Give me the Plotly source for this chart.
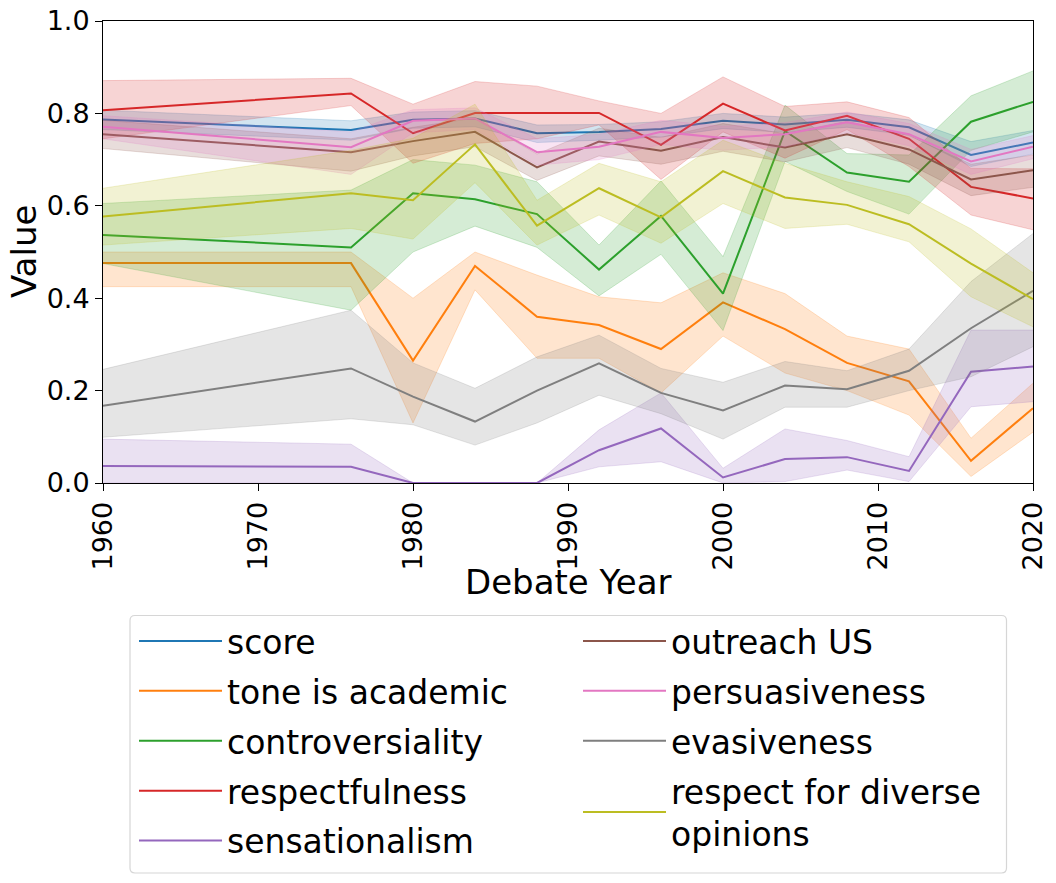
import plotly.graph_objects as go

years = [1960, 1976, 1980, 1984, 1988, 1992, 1996, 2000, 2004, 2008, 2012, 2016, 2020]

score = [0.787, 0.764, 0.786, 0.789, 0.757, 0.760, 0.766, 0.784, 0.776, 0.786, 0.770, 0.710, 0.737]
score_hi = [0.807, 0.784, 0.803, 0.806, 0.775, 0.776, 0.782, 0.800, 0.792, 0.801, 0.786, 0.739, 0.763]
score_lo = [0.765, 0.742, 0.768, 0.771, 0.737, 0.742, 0.749, 0.767, 0.759, 0.770, 0.753, 0.685, 0.712]

tone = [0.476, 0.476, 0.265, 0.470, 0.360, 0.342, 0.290, 0.391, 0.333, 0.260, 0.220, 0.048, 0.162]
tone_hi = [0.500, 0.500, 0.400, 0.500, 0.450, 0.403, 0.390, 0.455, 0.410, 0.318, 0.290, 0.097, 0.216]
tone_lo = [0.425, 0.425, 0.130, 0.418, 0.270, 0.270, 0.195, 0.318, 0.238, 0.200, 0.147, 0.014, 0.110]

contro = [0.537, 0.510, 0.627, 0.614, 0.582, 0.462, 0.578, 0.410, 0.762, 0.672, 0.652, 0.782, 0.825]
contro_hi = [0.605, 0.634, 0.700, 0.688, 0.652, 0.515, 0.654, 0.490, 0.818, 0.713, 0.710, 0.838, 0.892]
contro_lo = [0.475, 0.374, 0.500, 0.556, 0.510, 0.405, 0.495, 0.330, 0.696, 0.631, 0.582, 0.720, 0.760]

respect = [0.807, 0.843, 0.757, 0.801, 0.801, 0.801, 0.732, 0.821, 0.763, 0.795, 0.745, 0.641, 0.616]
respect_hi = [0.871, 0.876, 0.820, 0.869, 0.859, 0.827, 0.800, 0.879, 0.815, 0.825, 0.791, 0.681, 0.680]
respect_lo = [0.745, 0.817, 0.692, 0.735, 0.745, 0.775, 0.657, 0.760, 0.703, 0.765, 0.685, 0.580, 0.548]

sens = [0.037, 0.035, 0.0, 0.0, 0.0, 0.071, 0.118, 0.012, 0.052, 0.056, 0.026, 0.241, 0.252]
sens_hi = [0.095, 0.084, 0.0, 0.0, 0.0, 0.115, 0.195, 0.032, 0.117, 0.092, 0.057, 0.331, 0.331]
sens_lo = [0.0, 0.0, 0.0, 0.0, 0.0, 0.035, 0.046, 0.0, 0.003, 0.028, 0.003, 0.165, 0.176]

outreach = [0.755, 0.716, 0.740, 0.760, 0.683, 0.739, 0.719, 0.749, 0.726, 0.755, 0.722, 0.657, 0.677]
outreach_hi = [0.785, 0.745, 0.770, 0.790, 0.712, 0.768, 0.748, 0.778, 0.756, 0.783, 0.752, 0.690, 0.710]
outreach_lo = [0.724, 0.675, 0.708, 0.728, 0.655, 0.708, 0.690, 0.718, 0.695, 0.726, 0.690, 0.622, 0.640]

persu = [0.771, 0.727, 0.784, 0.789, 0.716, 0.728, 0.760, 0.747, 0.755, 0.781, 0.755, 0.696, 0.728]
persu_hi = [0.795, 0.760, 0.808, 0.812, 0.745, 0.755, 0.785, 0.772, 0.780, 0.803, 0.778, 0.722, 0.752]
persu_lo = [0.745, 0.668, 0.758, 0.765, 0.688, 0.700, 0.733, 0.720, 0.728, 0.758, 0.730, 0.668, 0.702]

evas = [0.167, 0.248, 0.187, 0.133, 0.200, 0.259, 0.195, 0.157, 0.211, 0.203, 0.243, 0.335, 0.416]
evas_hi = [0.246, 0.374, 0.260, 0.205, 0.273, 0.320, 0.248, 0.218, 0.263, 0.243, 0.290, 0.436, 0.540]
evas_lo = [0.099, 0.139, 0.126, 0.082, 0.130, 0.190, 0.150, 0.095, 0.164, 0.164, 0.200, 0.230, 0.295]

diverse = [0.577, 0.627, 0.612, 0.733, 0.557, 0.638, 0.575, 0.675, 0.618, 0.602, 0.560, 0.475, 0.398]
diverse_hi = [0.638, 0.720, 0.746, 0.820, 0.612, 0.692, 0.652, 0.742, 0.692, 0.652, 0.620, 0.550, 0.455]
diverse_lo = [0.515, 0.551, 0.528, 0.650, 0.515, 0.580, 0.519, 0.605, 0.551, 0.560, 0.522, 0.403, 0.338]

x_title = "Debate Year"
y_title = "Value"

series = [
    ("score", score, score_lo, score_hi, (31, 119, 180), "legend"),
    ("tone is academic", tone, tone_lo, tone_hi, (255, 127, 14), "legend"),
    ("controversiality", contro, contro_lo, contro_hi, (44, 160, 44), "legend"),
    ("respectfulness", respect, respect_lo, respect_hi, (214, 39, 40), "legend"),
    ("sensationalism", sens, sens_lo, sens_hi, (148, 103, 189), "legend"),
    ("outreach US", outreach, outreach_lo, outreach_hi, (140, 86, 75), "legend2"),
    ("persuasiveness", persu, persu_lo, persu_hi, (227, 119, 194), "legend2"),
    ("evasiveness", evas, evas_lo, evas_hi, (127, 127, 127), "legend2"),
    ("respect for diverse<br>opinions", diverse, diverse_lo, diverse_hi, (188, 189, 34), "legend2"),
]

fig = go.Figure()
for i, (name, y, lo, hi, (r, g, b), leg) in enumerate(series):
    fig.add_trace(go.Scatter(x=years, y=lo, mode="lines",
                             line=dict(width=1, color=f"rgba({r},{g},{b},0.2)"),
                             showlegend=False, hoverinfo="skip"))
    fig.add_trace(go.Scatter(x=years, y=hi, mode="lines", fill="tonexty",
                             fillcolor=f"rgba({r},{g},{b},0.2)",
                             line=dict(width=1, color=f"rgba({r},{g},{b},0.2)"),
                             showlegend=False, hoverinfo="skip"))
    fig.add_trace(go.Scatter(x=years, y=y, mode="lines", name=name,
                             line=dict(width=2, color=f"rgb({r},{g},{b})"),
                             legend=leg, legendgroup=f"g{i}"))

leg_common = dict(orientation="v", yanchor="top", xanchor="left",
                  font=dict(size=33), borderwidth=0, bgcolor="rgba(0,0,0,0)",
                  itemwidth=83, tracegroupgap=4, traceorder="grouped")


def px_x(p):
    return (p - 103) / 930.0


def px_y(p):
    return (483 - p) / 462.0


L, R, T, B, rad = 130, 1006.5, 615.5, 873, 5
path = (f"M{px_x(L + rad)},{px_y(T)} L{px_x(R - rad)},{px_y(T)} "
        f"Q{px_x(R)},{px_y(T)} {px_x(R)},{px_y(T + rad)} "
        f"L{px_x(R)},{px_y(B - rad)} Q{px_x(R)},{px_y(B)} {px_x(R - rad)},{px_y(B)} "
        f"L{px_x(L + rad)},{px_y(B)} Q{px_x(L)},{px_y(B)} {px_x(L)},{px_y(B - rad)} "
        f"L{px_x(L)},{px_y(T + rad)} Q{px_x(L)},{px_y(T)} {px_x(L + rad)},{px_y(T)} Z")

fig.update_layout(
    width=1056, height=883,
    margin=dict(l=103, r=23, t=21, b=400, autoexpand=False),
    plot_bgcolor="white", paper_bgcolor="white",
    font=dict(family="DejaVu Sans", color="black"),
    showlegend=True,
    legend=dict(x=px_x(134), y=px_y(613), **leg_common),
    legend2=dict(x=px_x(578), y=px_y(613), **leg_common),
    shapes=[dict(type="path", xref="paper", yref="paper", path=path,
                 line=dict(color="#d6d6d6", width=1.2), fillcolor="rgba(0,0,0,0)")],
    annotations=[
        dict(text=x_title, xref="paper", yref="paper", x=0.5, y=px_y(582),
             xanchor="center", yanchor="middle", showarrow=False, font=dict(size=34)),
        dict(text=y_title, xref="paper", yref="paper", x=px_x(24), y=0.5,
             xanchor="center", yanchor="middle", showarrow=False, textangle=-90,
             font=dict(size=34)),
    ],
)
fig.update_xaxes(range=[1960, 2020], tickvals=[1960, 1970, 1980, 1990, 2000, 2010, 2020],
                 tickangle=-90, tickfont=dict(size=27), showgrid=False, zeroline=False,
                 showline=True, mirror=True, linecolor="black", linewidth=1,
                 ticks="outside", ticklen=7, tickcolor="black", automargin=False,
                 ticklabeloverflow="allow")
fig.update_yaxes(range=[0, 1], tickvals=[0, 0.2, 0.4, 0.6, 0.8, 1.0], tickformat=".1f",
                 tickfont=dict(size=27), showgrid=False, zeroline=False,
                 showline=True, mirror=True, linecolor="black", linewidth=1,
                 ticks="outside", ticklen=7, tickcolor="black", automargin=False,
                 ticklabeloverflow="allow")

# remove the default 8px page margin so the figure sits at the window's top-left corner
fig.write_html("out.html", config={"displayModeBar": False},
               post_script="document.body.style.margin='0';document.body.style.overflow='hidden';")
